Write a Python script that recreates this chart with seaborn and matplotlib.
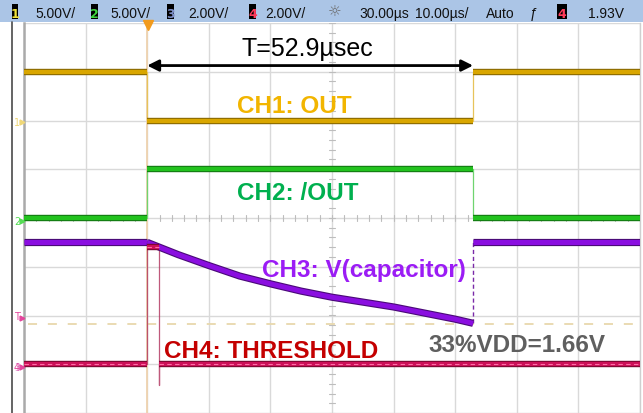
import numpy as np
import pandas as pd
import matplotlib
matplotlib.use("Agg")
import matplotlib.pyplot as plt
import matplotlib.patheffects as pe
from matplotlib.patches import Rectangle
import seaborn as sns

# ---------------- data (read from the scope capture) ----------------
edge_times_us = [0.0, 52.9]            # OUT falls at trigger, rises 52.9 us later
ch1_levels_v = [5.0, 0.0, 5.0]         # CH1: OUT
ch2_levels_v = [0.0, 5.0, 0.0]         # CH2: /OUT
ch3_decay_t_us = [0, 5, 10, 15, 20, 25, 30, 35, 40, 45, 50, 52.9]
ch3_decay_v = [5.0, 4.5, 4.05, 3.62, 3.3, 3.0, 2.75, 2.55, 2.35, 2.1, 1.85, 1.68]
ch3_rest_v = 5.0                        # capacitor voltage outside the discharge
ch4_pulse_t_us = [0.0, 1.95]            # short THRESHOLD pulse
ch4_levels_v = [0.0, 4.8, 0.0]
ch4_undershoot_v = -0.85
threshold_v = 1.66

channel_scale_v = [5.0, 5.0, 2.0, 2.0]  # V/div
channel_offset_div = [2.0, 0.0, -3.0, -3.0]
time_window_us = [-20.0, 80.0]

header_items = ["5.00V/", "5.00V/", "2.00V/", "2.00V/", "30.00µs", "10.00µs/", "Auto", "1.93V"]

# ---------------- helpers ----------------
def to_div(v, ch):
    return channel_offset_div[ch] + np.asarray(v, dtype=float) / channel_scale_v[ch]

def flat_segments(levels, edges, ch):
    bounds = [time_window_us[0]] + list(edges) + [time_window_us[1]]
    rows = []
    for i, lvl in enumerate(levels):
        d = float(to_div(lvl, ch))
        rows.append((bounds[i], d, i))
        rows.append((bounds[i + 1], d, i))
    return pd.DataFrame(rows, columns=["t", "div", "seg"])

def step_trace(levels, edges, ch):
    bounds = [time_window_us[0]] + list(edges) + [time_window_us[1]]
    rows = []
    for i, lvl in enumerate(levels):
        d = float(to_div(lvl, ch))
        rows.append((bounds[i], d))
        rows.append((bounds[i + 1], d))
    return pd.DataFrame(rows, columns=["t", "div"])

sns.set_style("white")
plt.rcParams["font.family"] = ["Liberation Sans", "DejaVu Sans"]

W, H = 643, 414
fig = plt.figure(figsize=(W / 100, H / 100), dpi=100, facecolor="white")

PX_DIV = 49.25
ax = fig.add_axes([24 / W, 0, 616 / W, (H - 24) / H])
ax.set_xlim(*time_window_us)
ax.set_ylim(-4 + (418 - H) / PX_DIV, 4)
ax.set_xticks(np.arange(-20, 81, 10))
ax.set_yticks(np.arange(-4, 5, 1))
ax.grid(True, color="#d9d9d9", lw=1.0)
ax.set_axisbelow(True)
ax.tick_params(length=0, labelbottom=False, labelleft=False)
for s in ["top", "bottom"]:
    ax.spines[s].set_visible(False)
ax.spines["left"].set_color("#aaaaaa")
ax.spines["left"].set_linewidth(1.8)
ax.spines["right"].set_color("#cfcfcf")
ax.spines["right"].set_linewidth(1.0)
ax.set_xlabel("")
ax.set_ylabel("")

# center cross ticks
for tt in np.arange(-20, 80.01, 2):
    ax.plot([tt, tt], [-0.06, 0.06], color="#bdbdbd", lw=0.8, zorder=1)
for yy in np.arange(-4, 4.01, 0.2):
    ax.plot([29.5, 30.5], [yy, yy], color="#bdbdbd", lw=0.8, zorder=1)

# trigger position line
ax.axvline(0, color="#efd3b0", lw=1.3, zorder=1.5)

# threshold reference line
thr_div = float(to_div(threshold_v, 2))
ax.hlines(thr_div, -19.4, 80, color="#e8d8ad", lw=1.3, linestyles=(0, (5, 6)), zorder=1.5)

def draw(df, color, lw, edge=None, units=True, ls="-", alpha=1.0, z=3):
    n0 = len(ax.lines)
    kw = dict(units="seg", estimator=None) if units else dict(estimator=None)
    sns.lineplot(data=df, x="t", y="div", sort=False, color=color, lw=lw,
                 legend=False, ax=ax, linestyle=ls, alpha=alpha, **kw)
    for ln in ax.lines[n0:]:
        ln.set_zorder(z)
        ln.set_solid_capstyle("butt")
        if edge is not None:
            ln.set_path_effects([pe.Stroke(linewidth=lw + 1.6, foreground=edge), pe.Normal()])

# CH1
draw(step_trace(ch1_levels_v, edge_times_us, 0), "#e7c35a", 0.9, units=False, z=2)
draw(flat_segments(ch1_levels_v, edge_times_us, 0), "#d9a600", 3.0, edge="#8a6a00")
# CH2
draw(step_trace(ch2_levels_v, edge_times_us, 1), "#6fd46f", 0.9, units=False, z=2)
draw(flat_segments(ch2_levels_v, edge_times_us, 1), "#22c21e", 3.0, edge="#137a13")
# CH3
ch3_pre = pd.DataFrame({"t": [time_window_us[0], ch3_decay_t_us[0]],
                        "div": to_div([ch3_rest_v, ch3_rest_v], 2), "seg": 0})
ch3_dec = pd.DataFrame({"t": ch3_decay_t_us, "div": to_div(ch3_decay_v, 2), "seg": 1})
ch3_post = pd.DataFrame({"t": [ch3_decay_t_us[-1], time_window_us[1]],
                         "div": to_div([ch3_rest_v, ch3_rest_v], 2), "seg": 2})
ch3_edge = pd.DataFrame({"t": [ch3_decay_t_us[-1], ch3_decay_t_us[-1]],
                         "div": to_div([ch3_decay_v[-1], ch3_rest_v], 2)})
draw(ch3_edge, "#7a2aa8", 1.0, units=False, ls=(0, (3, 2)), z=2)
draw(pd.concat([ch3_pre, ch3_dec, ch3_post]), "#8a0ee0", 3.6, edge="#4a0a78", z=3.2)
# CH4
ch4_edge = pd.DataFrame({"t": [time_window_us[0], ch4_pulse_t_us[0], ch4_pulse_t_us[0],
                               ch4_pulse_t_us[1], ch4_pulse_t_us[1], ch4_pulse_t_us[1]],
                         "div": to_div([ch4_levels_v[0], ch4_levels_v[0], ch4_levels_v[1],
                                        ch4_levels_v[1], ch4_undershoot_v, ch4_levels_v[2]], 3)})
draw(ch4_edge, "#b0305a", 0.9, units=False, z=2, alpha=0.8)
draw(flat_segments(ch4_levels_v, ch4_pulse_t_us, 3), "#cc1058", 3.0, edge="#7a0830", z=3.4)
# bright dashed core of the CH4 trace
n0 = len(ax.lines)
sns.lineplot(data=flat_segments(ch4_levels_v, ch4_pulse_t_us, 3), x="t", y="div", units="seg",
             estimator=None, sort=False, color="#ff6fa6", lw=0.8, legend=False, ax=ax,
             linestyle=(0, (4, 3)))
for ln in ax.lines[n0:]:
    ln.set_zorder(3.5)

# period arrow
ya = (221 - 67) / PX_DIV
ax.annotate("", xy=(edge_times_us[0], ya), xytext=(edge_times_us[1], ya),
            arrowprops=dict(arrowstyle="<|-|>", color="black", lw=2.0,
                            mutation_scale=17, shrinkA=0, shrinkB=0), zorder=6)

# ---------------- overlay in pixel coordinates ----------------
ov = fig.add_axes([0, 0, 1, 1], zorder=5)
ov.set_xlim(0, W)
ov.set_ylim(H, 0)
ov.axis("off")
ov.patch.set_alpha(0)

# header bar
ov.add_patch(Rectangle((0, 0), W, 23, facecolor="#abc5e6", edgecolor="none"))
boxes = [(12, "1", "#efe23a", 6), (91, "2", "#3fd43f", 7), (167, "3", "#7d8fc8", 7),
         (249, "4", "#ff3a5a", 7), (557, "4", "#ff3a5a", 10)]
for x, lab, col, w in boxes:
    ov.add_patch(Rectangle((x, 5), w, 15, facecolor="black", edgecolor="none"))
    ov.text(x + w / 2, 18, lab, color=col, fontsize=9, ha="center", va="baseline",
            family=["DejaVu Sans"], fontweight="bold")
hx = [35, 110, 188, 265, 359, 415, 486, 588]
for x, s in zip(hx, header_items):
    ov.text(x, 18, s, color="#111111", fontsize=10, ha="left", va="baseline")
ov.text(335, 17, "☼", color="#6a6a6a", fontsize=11, ha="center", va="baseline",
        family=["DejaVu Sans"])
ov.text(534, 18, "ƒ", color="#111111", fontsize=10, ha="center", va="baseline")

# left strip
ov.plot([12, 12], [23, H], color="#4a4a4a", lw=1.2)
ov.plot(148, 25.5, marker="v", color="#f29b1d", ms=6.5, clip_on=False)
markers = [(123, "1", "#f0d878"), (222, "2", "#55dd55"), (317, "T", "#e3459c"), (368, "4", "#e3459c")]
for y, lab, col in markers:
    ov.text(17, y, lab, color=col, fontsize=7, ha="center", va="center", family=["DejaVu Sans"])
    ov.plot(21.5, y + (2 if lab == "T" else 0), marker=">", color=col, ms=3.5)
ov.text(17.5, 368, "3", color="#d050b0", fontsize=7, ha="center", va="center",
        family=["DejaVu Sans"], alpha=0.6)

# annotations
ov.text(242, 56, "T=52.9µsec", color="black", fontsize=18, ha="left", va="baseline")
labels = [("CH1: OUT", 237, 113, "#f2b500"), ("CH2: /OUT", 237, 200, "#00b04f"),
          ("CH3: V(capacitor)", 262, 277, "#9b1cf5"), ("CH4: THRESHOLD", 164, 358, "#c40000"),
          ("33%VDD=1.66V", 428, 352, "#5f5f5f")]
for s, x, y, c in labels:
    ov.text(x, y, s, color=c, fontsize=17.5, fontweight="bold", ha="left", va="baseline")

fig.savefig("out.png", dpi=100, facecolor="white")
